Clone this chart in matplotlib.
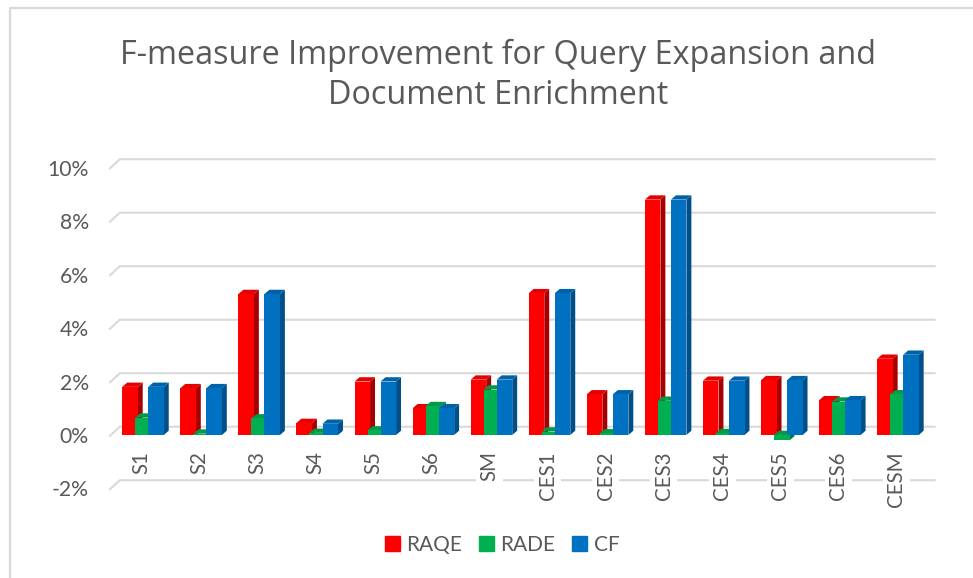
import matplotlib
matplotlib.use("Agg")
import matplotlib.pyplot as plt
from matplotlib.lines import Line2D
from matplotlib.patches import Patch

categories = ["S1", "S2", "S3", "S4", "S5", "S6", "SM", "CES1", "CES2", "CES3", "CES4", "CES5", "CES6", "CESM"]
raqe = [1.8, 1.75, 5.27, 0.45, 2.0, 1.0, 2.07, 5.3, 1.52, 8.8, 2.03, 2.05, 1.3, 2.85]
rade = [0.65, 0.05, 0.62, 0.08, 0.17, 1.08, 1.7, 0.13, 0.06, 1.28, 0.07, -0.2, 1.25, 1.52]
cf = [1.8, 1.75, 5.27, 0.42, 2.0, 1.0, 2.07, 5.3, 1.52, 8.8, 2.03, 2.05, 1.3, 3.0]
y_ticks = [-2, 0, 2, 4, 6, 8, 10]

W, H = 973, 578
plt.rcParams["font.family"] = ["Lato", "DejaVu Sans"]
TEXT = "#595959"
GRID = "#D9D9D9"

fig = plt.figure(figsize=(W / 100, H / 100), dpi=100)
ax = fig.add_axes([114 / W, 1 - 488.5 / H, 813 / W, 321 / H])
ax.set_xlim(-0.5, 13.5)
ax.set_ylim(-2, 10)
for s in ax.spines.values():
    s.set_visible(False)

# chart border, runs off the right and bottom of the crop
fig.add_artist(Line2D([10 / W, 10 / W, 1], [0, 1 - 8 / H, 1 - 8 / H], color=GRID, lw=1.6))

# back wall gridlines with the little diagonal on the left
for v in y_ticks:
    ax.plot([-0.57, -0.4, 13.63], [v - 0.03, v + 0.31, v + 0.31], color=GRID, lw=1.5,
            clip_on=False, zorder=1, solid_joinstyle="miter")

ax.set_yticks(y_ticks)
ax.set_yticklabels([f"{v}%" for v in y_ticks], fontsize=15.2, color=TEXT)
ax.tick_params(axis="y", length=0, pad=18)
ax.set_xticks([])

width = 0.267
step = 0.224
dx = 0.085
dy = 0.16
series = [
    (raqe, -step, "#FF0000", "#A80000", "#E60000"),
    (rade, 0, "#00B050", "#007A38", "#009A46"),
    (cf, step, "#0070C0", "#004F88", "#0062A8"),
]

z = 3
for i in range(len(categories)):
    for vals, off, front, side, top in series:
        v = vals[i]
        left = i + off - width / 2
        right = left + width
        hi = max(v, 0)
        lo = min(v, 0)
        ax.fill([right, right + dx, right + dx, right], [lo, lo + dy, hi + dy, hi],
                color=side, lw=0, zorder=z)
        ax.fill([left, left + dx, right + dx, right], [hi, hi + dy, hi + dy, hi],
                color=top, lw=0, zorder=z)
        ax.bar(i + off, hi - lo, width, bottom=lo, color=front, lw=0, zorder=z + 0.5)
        z += 1

for i, name in enumerate(categories):
    ax.text(i - 0.03, -0.6, name, rotation=90, ha="center", va="top", fontsize=14.8, color=TEXT,
            zorder=2, bbox=dict(facecolor="white", edgecolor="none", pad=2.5))

fig.text(498 / W, 1 - 75.5 / H, "F-measure Improvement for Query Expansion and\nDocument Enrichment",
         ha="center", va="center", fontsize=23.3, color=TEXT, linespacing=1.3, family=["Open Sans", "DejaVu Sans"])

handles = [Patch(color="#FF0000", label="RAQE"), Patch(color="#00B050", label="RADE"), Patch(color="#0070C0", label="CF")]
fig.legend(handles=handles, loc="center", bbox_to_anchor=(502 / W, 1 - 545 / H), ncol=3, frameon=False,
           fontsize=15, labelcolor=TEXT, handlelength=0.72, handleheight=0.72, handletextpad=0.32,
           columnspacing=0.8, borderpad=0)

fig.savefig("out.png", dpi=100)
